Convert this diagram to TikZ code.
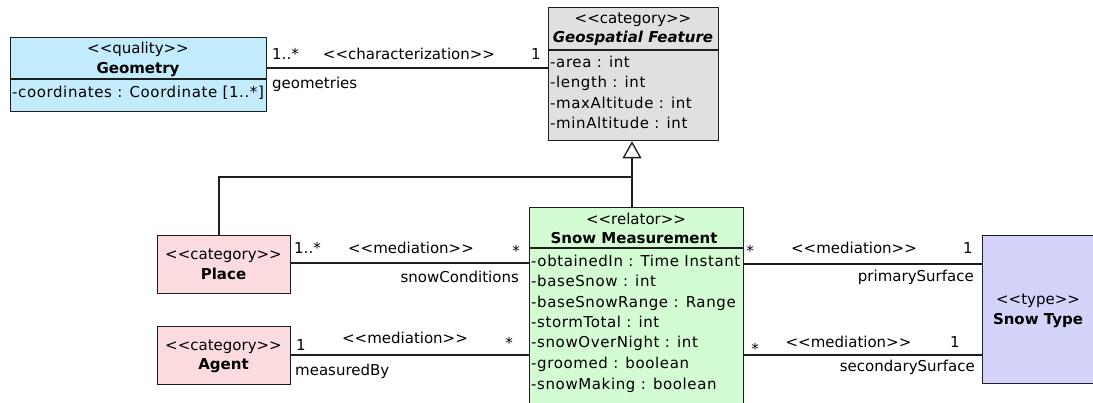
\documentclass[tikz,border=0pt]{standalone}
\usepackage{fontspec}
\setmainfont{DejaVu Sans}
\usetikzlibrary{arrows.meta}

\definecolor{qualityfill}{HTML}{C2EBFC}
\definecolor{categoryfill}{HTML}{E0E0E0}
\definecolor{placefill}{HTML}{FCDBDE}
\definecolor{relatorfill}{HTML}{D3FCD3}
\definecolor{typefill}{HTML}{D4D4FA}
\definecolor{edge}{HTML}{1E1E1E}

% stereotype text with the guillemet ligature broken up
\newcommand\stereo[1]{<{}<#1>{}>}

\begin{document}
\begin{tikzpicture}[x=1pt,y=-1pt,
  classbox/.style={draw=edge, line width=1.3pt, inner sep=0pt, anchor=north west},
  conn/.style={draw=edge, line width=1.3pt},
  divider/.style={draw=edge, line width=1.3pt},
  txt/.style={inner sep=0pt, font=\fontsize{15}{18}\selectfont},
  attr/.style={inner sep=0pt, anchor=base west, font=\fontsize{15}{18}\selectfont\addfontfeature{LetterSpace=4}},
  lbl/.style={txt},
  ttl/.style={txt, font=\fontsize{15}{18}\selectfont\bfseries},
]
\useasboundingbox (0,0) rectangle (1093,403);
\clip (0,0) rectangle (1093,403);

% ---------- class boxes ----------
\node[classbox, fill=qualityfill, minimum width=256pt, minimum height=74pt] (geom) at (10,37) {};
\node[classbox, fill=categoryfill, minimum width=170pt, minimum height=133pt] (gf) at (548,7) {};
\node[classbox, fill=placefill, minimum width=133pt, minimum height=58pt] (place) at (157,235) {};
\node[classbox, fill=placefill, minimum width=133pt, minimum height=58pt] (agent) at (157,326) {};
\node[classbox, fill=relatorfill, minimum width=214pt, minimum height=215pt] (sm) at (529,207) {};
\node[classbox, fill=typefill, minimum width=116pt, minimum height=148pt] (st) at (982,235) {};

% compartment dividers
\draw[divider] (10,79) -- (266,79);
\draw[divider] (548,50) -- (718,50);
\draw[divider] (529,248) -- (743,248);

% ---------- box texts ----------
\node[txt, anchor=base] (geomst) at (138,54) {\stereo{quality}};
\node[ttl, anchor=base] (geomnm) at (138,74) {Geometry};
\node[attr] (geoma) at (12,98) {-coordinates : Coordinate [1..*]};

\node[txt, anchor=base] (gfst) at (633,24) {\stereo{category}};
\node[ttl, anchor=base, font=\fontsize{15}{18}\selectfont\bfseries\itshape] (gfnm) at (633,43) {Geospatial Feature};
\node[attr] (gfa1) at (550,68) {-area : int};
\node[attr] (gfa2) at (550,88) {-length : int};
\node[attr] (gfa3) at (550,109) {-maxAltitude : int};
\node[attr] (gfa4) at (550,129) {-minAltitude : int};

\node[txt, anchor=base] (plst) at (223.5,260) {\stereo{category}};
\node[ttl, anchor=base] (plnm) at (223.5,280) {Place};
\node[txt, anchor=base] (agst) at (223.5,351) {\stereo{category}};
\node[ttl, anchor=base] (agnm) at (223.5,370) {Agent};

\node[txt, anchor=base] (smst) at (636,225) {\stereo{relator}};
\node[ttl, anchor=base] (smnm) at (634,244) {Snow Measurement};
\node[attr] (sma1) at (531,267) {-obtainedIn : Time Instant};
\node[attr] (sma2) at (531,287) {-baseSnow : int};
\node[attr] (sma3) at (531,308) {-baseSnowRange : Range};
\node[attr] (sma4) at (531,328) {-stormTotal : int};
\node[attr] (sma5) at (531,348) {-snowOverNight : int};
\node[attr] (sma6) at (531,369) {-groomed : boolean};
\node[attr] (sma7) at (531,390) {-snowMaking : boolean};

\node[txt, anchor=base] (stst) at (1038,305) {\stereo{type}};
\node[ttl, anchor=base] (stnm) at (1038,325) {Snow Type};

% ---------- connector levels ----------
\coordinate (charY) at (0,68);
\coordinate (placeY) at (0,263);
\coordinate (agentY) at (0,355);
\coordinate (primY) at (0,264);
\coordinate (secY) at (0,355);
\coordinate (genX) at (632,0);
\coordinate (plX) at (219,0);
\coordinate (genJoin) at (632,177);

% characterization
\draw[conn] (geom.east |- charY) -- (gf.west |- charY);
% generalization tree
\draw[conn, -{Triangle[open, length=17pt, width=19pt, fill=white]}] (sm.north -| genX) -- (gf.south -| genX);
\draw[conn] (place.north -| plX) |- (genJoin);
% mediations
\draw[conn] (place.east |- placeY) -- (sm.west |- placeY);
\draw[conn] (agent.east |- agentY) -- (sm.west |- agentY);
\draw[conn] (sm.east |- primY) -- (st.west |- primY);
\draw[conn] (sm.east |- secY) -- (st.west |- secY);

% ---------- connector labels ----------
\node[lbl, anchor=base west] (c1) at (272,60) {1..*};
\node[lbl, anchor=base] (c2) at (409,60) {\stereo{characterization}};
\node[lbl, anchor=base] (c3) at (536,60) {1};
\node[lbl, anchor=base west] (c4) at (272,89) {geometries};

\node[lbl, anchor=base west] (p1) at (294,253.5) {1..*};
\node[lbl, anchor=base] (p2) at (411,253.5) {\stereo{mediation}};
\node[lbl, anchor=base] (p3) at (516,257) {*};
\node[lbl, anchor=base east] (p4) at (519,282.5) {snowConditions};

\node[lbl, anchor=base] (a1) at (301,350.5) {1};
\node[lbl, anchor=base] (a2) at (405,343.5) {\stereo{mediation}};
\node[lbl, anchor=base] (a3) at (509,349) {*};
\node[lbl, anchor=base west] (a4) at (295,376) {measuredBy};

\node[lbl, anchor=base] (r1) at (750,257) {*};
\node[lbl, anchor=base] (r2) at (854,253.5) {\stereo{mediation}};
\node[lbl, anchor=base] (r3) at (968,254) {1};
\node[lbl, anchor=base east] (r4) at (974,282) {primarySurface};

\node[lbl, anchor=base] (s1) at (755,355) {*};
\node[lbl, anchor=base] (s2) at (848.5,347.5) {\stereo{mediation}};
\node[lbl, anchor=base] (s3) at (955,347.5) {1};
\node[lbl, anchor=base east] (s4) at (975,372) {secondarySurface};
\end{tikzpicture}
\end{document}
